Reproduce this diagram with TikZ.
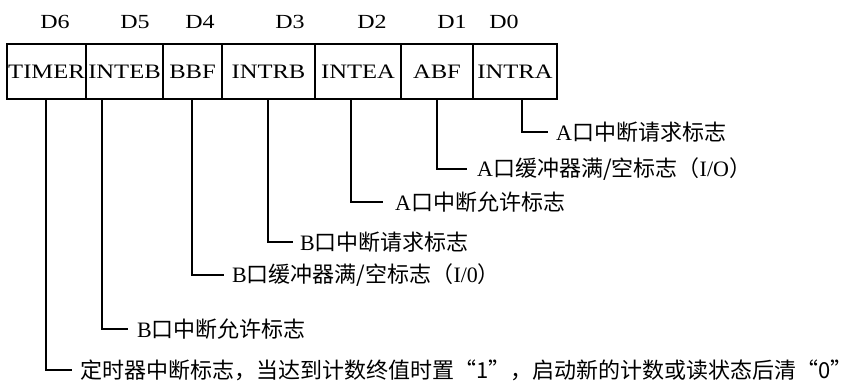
\documentclass[tikz,border=0pt]{standalone}
\usepackage{fontspec}
\setmainfont{Liberation Serif}
\newfontfamily\cjk{Noto Sans CJK SC}
\newfontfamily\widefont[FakeStretch=1.2]{Liberation Serif}
\begin{document}
\begin{tikzpicture}[x=1pt,y=1pt,
  cell/.style={draw,line width=1.8pt,minimum height=55pt,inner sep=0pt,font=\widefont\fontsize{20.5}{20}\selectfont},
  bitlbl/.style={font=\widefont\fontsize{20}{20}\selectfont,inner sep=0pt},
  desc/.style={anchor=west,inner sep=0pt,font=\fontsize{22}{24}\selectfont},
  conn/.style={line width=1.6pt}]
\useasboundingbox (0,0) rectangle (859,383);
% register cells (y: 383 - pixel)
\node[cell,minimum width=79pt] (timer) at (46.5,311.5) {TIMER};
\node[cell,minimum width=77pt] (inteb) at (124.5,311.5) {INTEB};
\node[cell,minimum width=59pt] (bbf) at (192.5,311.5) {BBF};
\node[cell,minimum width=93pt] (intrb) at (268.5,311.5) {INTRB};
\node[cell,minimum width=86pt] (intea) at (358,311.5) {INTEA};
\node[cell,minimum width=72pt] (abf) at (437,311.5) {ABF};
\node[cell,minimum width=84pt] (intra) at (515,311.5) {INTRA};
% bit labels
\node[bitlbl] (d6) at (55,361) {D6};
\node[bitlbl] (d5) at (135,361) {D5};
\node[bitlbl] (d4) at (200,361) {D4};
\node[bitlbl] (d3) at (290,361) {D3};
\node[bitlbl] (d2) at (372,361) {D2};
\node[bitlbl] (d1) at (452,361) {D1};
\node[bitlbl] (d0) at (504,361) {D0};
% descriptions
\node[desc] (la0) at (556,251) {A{\cjk 口中断请求标志}};
\node[desc] (la1) at (477,214) {A{\cjk 口缓冲器满/空标志（}I/O{\cjk ）}};
\node[desc] (la2) at (395,181) {A{\cjk 口中断允许标志}};
\node[desc] (lb0) at (300,141) {B{\cjk 口中断请求标志}};
\node[desc] (lb1) at (232,108) {B{\cjk 口缓冲器满/空标志（}I/0{\cjk ）}};
\node[desc] (lb2) at (137,54) {B{\cjk 口中断允许标志}};
\node[desc] (lt) at (80,13) {\cjk 定时器中断标志，当达到计数终值时置“1”，启动新的计数或读状态后清“0”};
% connectors
\draw[conn] (intra.south -| 522,0) |- ([xshift=-8pt]la0.west);
\draw[conn] (abf.south -| 437,0) |- ([xshift=-10pt]la1.west);
\draw[conn] (intea.south -| 351,0) |- ([xshift=-12pt]la2.west);
\draw[conn] (intrb.south -| 268,0) |- ([xshift=-7pt]lb0.west);
\draw[conn] (bbf.south -| 192,0) |- ([xshift=-8pt]lb1.west);
\draw[conn] (inteb.south -| 102,0) |- ([xshift=-9pt]lb2.west);
\draw[conn] (timer.south -| 46,0) |- ([xshift=-8pt]lt.west);
\end{tikzpicture}
\end{document}
